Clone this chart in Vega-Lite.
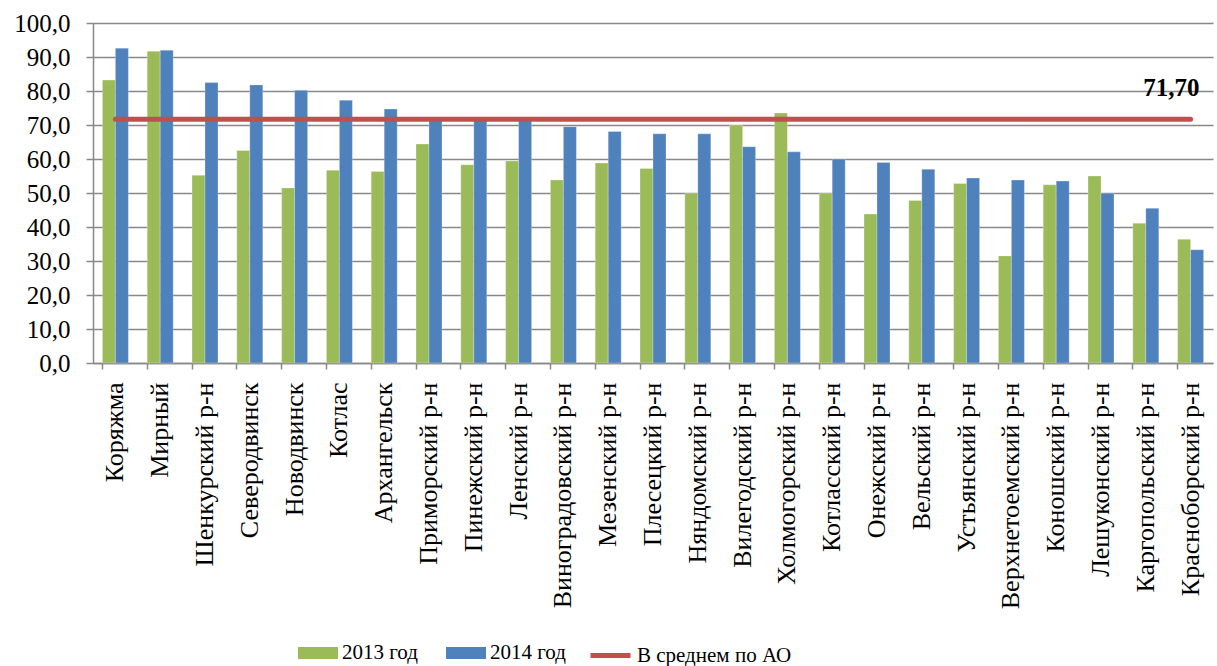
{
  "$schema": "https://vega.github.io/schema/vega-lite/v6.json",
  "width": 1120,
  "height": 340,
  "autosize": {"type": "none"},
  "padding": {"left": 93, "top": 23, "right": 4, "bottom": 303},
  "background": "white",
  "config": {
    "view": {"stroke": null},
    "font": "Liberation Serif",
    "axis": {"labelFont": "Liberation Serif", "labelColor": "black", "labelFontSize": 24},
    "legend": {"labelFont": "Liberation Serif", "labelColor": "black", "labelFontSize": 21}
  },
  "datasets": {
    "bars": [
      {"region": "Коряжма", "year": "2013 год", "value": 83.2},
      {"region": "Коряжма", "year": "2014 год", "value": 92.6},
      {"region": "Мирный", "year": "2013 год", "value": 91.7},
      {"region": "Мирный", "year": "2014 год", "value": 92.0},
      {"region": "Шенкурский р-н", "year": "2013 год", "value": 55.2},
      {"region": "Шенкурский р-н", "year": "2014 год", "value": 82.5},
      {"region": "Северодвинск", "year": "2013 год", "value": 62.5},
      {"region": "Северодвинск", "year": "2014 год", "value": 81.8},
      {"region": "Новодвинск", "year": "2013 год", "value": 51.5},
      {"region": "Новодвинск", "year": "2014 год", "value": 80.2},
      {"region": "Котлас", "year": "2013 год", "value": 56.7},
      {"region": "Котлас", "year": "2014 год", "value": 77.3},
      {"region": "Архангельск", "year": "2013 год", "value": 56.3},
      {"region": "Архангельск", "year": "2014 год", "value": 74.7},
      {"region": "Приморский р-н", "year": "2013 год", "value": 64.4},
      {"region": "Приморский р-н", "year": "2014 год", "value": 71.5},
      {"region": "Пинежский р-н", "year": "2013 год", "value": 58.3},
      {"region": "Пинежский р-н", "year": "2014 год", "value": 71.6},
      {"region": "Ленский р-н", "year": "2013 год", "value": 59.4},
      {"region": "Ленский р-н", "year": "2014 год", "value": 72.0},
      {"region": "Виноградовский р-н", "year": "2013 год", "value": 53.8},
      {"region": "Виноградовский р-н", "year": "2014 год", "value": 69.5},
      {"region": "Мезенский р-н", "year": "2013 год", "value": 58.8},
      {"region": "Мезенский р-н", "year": "2014 год", "value": 68.1},
      {"region": "Плесецкий р-н", "year": "2013 год", "value": 57.2},
      {"region": "Плесецкий р-н", "year": "2014 год", "value": 67.4},
      {"region": "Няндомский р-н", "year": "2013 год", "value": 49.9},
      {"region": "Няндомский р-н", "year": "2014 год", "value": 67.4},
      {"region": "Вилегодский р-н", "year": "2013 год", "value": 70.0},
      {"region": "Вилегодский р-н", "year": "2014 год", "value": 63.6},
      {"region": "Холмогорский р-н", "year": "2013 год", "value": 73.5},
      {"region": "Холмогорский р-н", "year": "2014 год", "value": 62.1},
      {"region": "Котласский р-н", "year": "2013 год", "value": 49.9},
      {"region": "Котласский р-н", "year": "2014 год", "value": 60.0},
      {"region": "Онежский р-н", "year": "2013 год", "value": 43.8},
      {"region": "Онежский р-н", "year": "2014 год", "value": 59.0},
      {"region": "Вельский р-н", "year": "2013 год", "value": 47.8},
      {"region": "Вельский р-н", "year": "2014 год", "value": 57.0},
      {"region": "Устьянский р-н", "year": "2013 год", "value": 52.8},
      {"region": "Устьянский р-н", "year": "2014 год", "value": 54.4},
      {"region": "Верхнетоемский р-н", "year": "2013 год", "value": 31.5},
      {"region": "Верхнетоемский р-н", "year": "2014 год", "value": 53.8},
      {"region": "Коношский р-н", "year": "2013 год", "value": 52.4},
      {"region": "Коношский р-н", "year": "2014 год", "value": 53.5},
      {"region": "Лешуконский р-н", "year": "2013 год", "value": 55.0},
      {"region": "Лешуконский р-н", "year": "2014 год", "value": 49.9},
      {"region": "Каргопольский р-н", "year": "2013 год", "value": 41.1},
      {"region": "Каргопольский р-н", "year": "2014 год", "value": 45.5},
      {"region": "Красноборский р-н", "year": "2013 год", "value": 36.4},
      {"region": "Красноборский р-н", "year": "2014 год", "value": 33.3}
    ],
    "avg": [
      {"region": "Коряжма", "avg": 71.7},
      {"region": "Мирный", "avg": 71.7},
      {"region": "Шенкурский р-н", "avg": 71.7},
      {"region": "Северодвинск", "avg": 71.7},
      {"region": "Новодвинск", "avg": 71.7},
      {"region": "Котлас", "avg": 71.7},
      {"region": "Архангельск", "avg": 71.7},
      {"region": "Приморский р-н", "avg": 71.7},
      {"region": "Пинежский р-н", "avg": 71.7},
      {"region": "Ленский р-н", "avg": 71.7},
      {"region": "Виноградовский р-н", "avg": 71.7},
      {"region": "Мезенский р-н", "avg": 71.7},
      {"region": "Плесецкий р-н", "avg": 71.7},
      {"region": "Няндомский р-н", "avg": 71.7},
      {"region": "Вилегодский р-н", "avg": 71.7},
      {"region": "Холмогорский р-н", "avg": 71.7},
      {"region": "Котласский р-н", "avg": 71.7},
      {"region": "Онежский р-н", "avg": 71.7},
      {"region": "Вельский р-н", "avg": 71.7},
      {"region": "Устьянский р-н", "avg": 71.7},
      {"region": "Верхнетоемский р-н", "avg": 71.7},
      {"region": "Коношский р-н", "avg": 71.7},
      {"region": "Лешуконский р-н", "avg": 71.7},
      {"region": "Каргопольский р-н", "avg": 71.7},
      {"region": "Красноборский р-н", "avg": 71.7, "label": "71,70"}
    ]
  },
  "encoding": {
    "x": {
      "field": "region",
      "type": "nominal",
      "sort": null,
      "scale": {
        "domain": ["Коряжма","Мирный","Шенкурский р-н","Северодвинск","Новодвинск","Котлас","Архангельск","Приморский р-н","Пинежский р-н","Ленский р-н","Виноградовский р-н","Мезенский р-н","Плесецкий р-н","Няндомский р-н","Вилегодский р-н","Холмогорский р-н","Котласский р-н","Онежский р-н","Вельский р-н","Устьянский р-н","Верхнетоемский р-н","Коношский р-н","Лешуконский р-н","Каргопольский р-н","Красноборский р-н"],
        "paddingInner": 0.42,
        "paddingOuter": 0.21
      },
      "axis": {
        "title": null,
        "labelAngle": -90,
        "labelAlign": "right",
        "labelBaseline": "middle",
        "labelPadding": 13,
        "labelLimit": 0,
        "labelOverlap": false,
        "labelFontSize": 26,
        "bandPosition": 0,
        "ticks": true,
        "tickSize": 6,
        "tickColor": "#888888",
        "tickWidth": 1.5,
        "domainColor": "#888888",
        "domainWidth": 1.5,
        "grid": false
      }
    }
  },
  "layer": [
    {
      "data": {"name": "bars"},
      "mark": {"type": "bar", "stroke": "white", "strokeOpacity": 0.5, "strokeWidth": 0.5},
      "encoding": {
        "xOffset": {"field": "year", "type": "nominal", "scale": {"paddingInner": 0, "paddingOuter": 0}},
        "y": {
          "field": "value",
          "type": "quantitative",
          "scale": {"domain": [0, 100], "nice": false},
          "axis": {
            "title": null,
            "values": [0,10,20,30,40,50,60,70,80,90,100],
            "labelExpr": "replace(format(datum.value, '.1f'), '.', ',')",
            "labelOverlap": false,
            "labelFontSize": 25,
            "labelPadding": 16,
            "tickSize": 7,
            "tickColor": "#888888",
            "tickWidth": 1.5,
            "domainColor": "#888888",
            "domainWidth": 1.5,
            "gridColor": "#888888",
            "gridWidth": 1.5
          }
        },
        "fill": {
          "field": "year",
          "type": "nominal",
          "scale": {"domain": ["2013 год", "2014 год"], "range": ["#9BBB59", "#4F81BD"]},
          "legend": {
            "title": null,
            "orient": "none",
            "direction": "horizontal",
            "legendX": 205,
            "legendY": 610,
            "symbolType": "M-1,-0.3H1V0.3H-1Z",
            "symbolSize": 1600,
            "symbolStrokeWidth": 0,
            "labelOffset": 4,
            "columnPadding": 28
          }
        }
      }
    },
    {
      "data": {"name": "avg"},
      "mark": {"type": "line", "strokeWidth": 5, "strokeCap": "round"},
      "encoding": {
        "y": {
          "field": "avg",
          "type": "quantitative",
          "axis": {
            "title": null,
            "values": [0,10,20,30,40,50,60,70,80,90,100],
            "labelExpr": "replace(format(datum.value, '.1f'), '.', ',')",
            "labelOverlap": false,
            "labelFontSize": 25,
            "labelPadding": 16,
            "tickSize": 7,
            "tickColor": "#888888",
            "tickWidth": 1.5,
            "domainColor": "#888888",
            "domainWidth": 1.5,
            "gridColor": "#888888",
            "gridWidth": 1.5
          }
        },
        "stroke": {
          "datum": "В среднем по АО",
          "scale": {"range": ["#C0504D"]},
          "legend": {
            "title": null,
            "orient": "none",
            "legendX": 495,
            "legendY": 610,
            "symbolType": "stroke",
            "symbolSize": 1600,
            "symbolStrokeWidth": 5,
            "labelOffset": 4
          }
        }
      }
    },
    {
      "data": {"name": "avg"},
      "transform": [{"filter": "datum.label != null"}],
      "mark": {"type": "text", "font": "Liberation Serif", "fontWeight": "bold", "fontSize": 25, "align": "right", "baseline": "middle", "dx": 9, "dy": -31, "color": "black"},
      "encoding": {
        "y": {
          "field": "avg",
          "type": "quantitative",
          "axis": {
            "title": null,
            "values": [0,10,20,30,40,50,60,70,80,90,100],
            "labelExpr": "replace(format(datum.value, '.1f'), '.', ',')",
            "labelOverlap": false,
            "labelFontSize": 25,
            "labelPadding": 16,
            "tickSize": 7,
            "tickColor": "#888888",
            "tickWidth": 1.5,
            "domainColor": "#888888",
            "domainWidth": 1.5,
            "gridColor": "#888888",
            "gridWidth": 1.5
          }
        },
        "text": {"field": "label"}
      }
    }
  ]
}
